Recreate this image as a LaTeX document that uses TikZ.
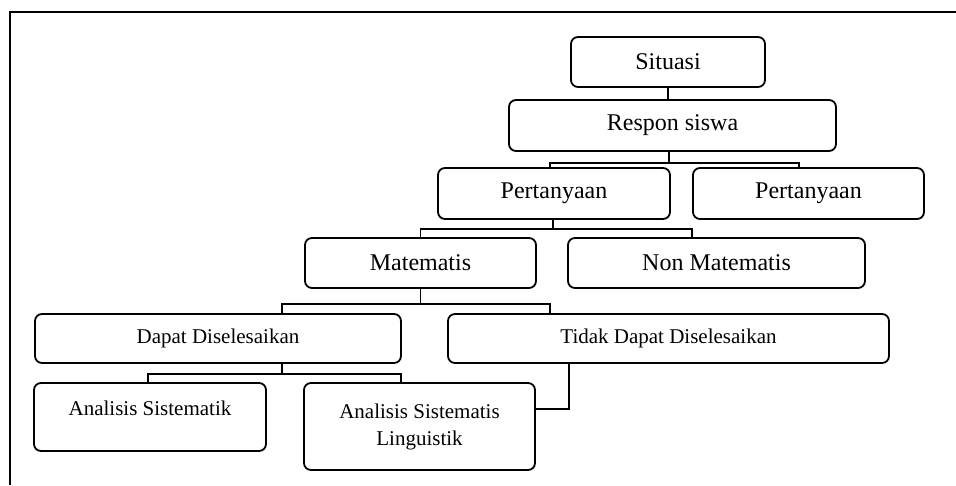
\documentclass[tikz,border=0pt]{standalone}
\usepackage{fontspec}
\setmainfont{Liberation Serif}
\begin{document}
\begin{tikzpicture}[x=1pt,y=1pt,
    kotak/.style={draw,rounded corners=7pt,line width=1.8pt,inner sep=0pt,
      font=\fontsize{24}{26}\selectfont},
    kecil/.style={kotak,align=center,font=\fontsize{21}{27}\selectfont}]
  \useasboundingbox (0,0) rectangle (956,485);
  \draw[line width=2pt] (10,0) -- (10,472.5) -- (956,472.5);
  \draw
    (668,423) node[kotak,minimum width=194pt,minimum height=50pt] (situasi){Situasi}
    (672.5,359.5) node[kotak,minimum width=327pt,minimum height=51pt] (respon){Respon siswa}
    (554,291.5) node[kotak,minimum width=232pt,minimum height=51pt] (p1){Pertanyaan}
    (808.5,291.5) node[kotak,minimum width=231pt,minimum height=51pt] (p2){Pertanyaan}
    (420.5,222) node[kotak,minimum width=231pt,minimum height=50pt] (mat){Matematis}
    (716.5,222) node[kotak,minimum width=297pt,minimum height=50pt] (nonmat){Non Matematis}
    (218,146.5) node[kecil,minimum width=366pt,minimum height=49pt] (dapat){Dapat Diselesaikan}
    (668.5,146.5) node[kecil,minimum width=441pt,minimum height=49pt] (tidak){Tidak Dapat Diselesaikan}
    (150,68) node[kecil,minimum width=232pt,text height=32pt,text depth=36pt] (as){Analisis Sistematik}
    (419.5,58.5) node[kecil,minimum width=231pt,minimum height=87pt] (asl){Analisis Sistematis\\Linguistik};
  \begin{scope}[-,line width=1.5pt]
    \draw (situasi.south) -- (situasi.south |- respon.north);
    \draw ([xshift=-3.5pt]respon.south) -- ++(0,-11) -| ([xshift=-4pt]p1.north);
    \draw ([xshift=-3.5pt]respon.south) -- ++(0,-11) -| ([xshift=-9.5pt]p2.north);
    \draw ([xshift=-1pt]p1.south) -- ++(0,-9) -| (mat.north);
    \draw ([xshift=-1pt]p1.south) -- ++(0,-9) -| ([xshift=-24.5pt]nonmat.north);
    \draw (mat.south) -- ++(0,-15) -| ([xshift=64pt]dapat.north);
    \draw (mat.south) -- ++(0,-15) -| ([xshift=-118.5pt]tidak.north);
    \draw ([xshift=64pt]dapat.south) -- ++(0,-10) -| ([xshift=-2pt]as.north);
    \draw ([xshift=64pt]dapat.south) -- ++(0,-10) -| ([xshift=-18.5pt]asl.north);
    \draw ([xshift=-99.5pt]tidak.south) |- ([yshift=17.5pt]asl.east);
  \end{scope}
\end{tikzpicture}
\end{document}
